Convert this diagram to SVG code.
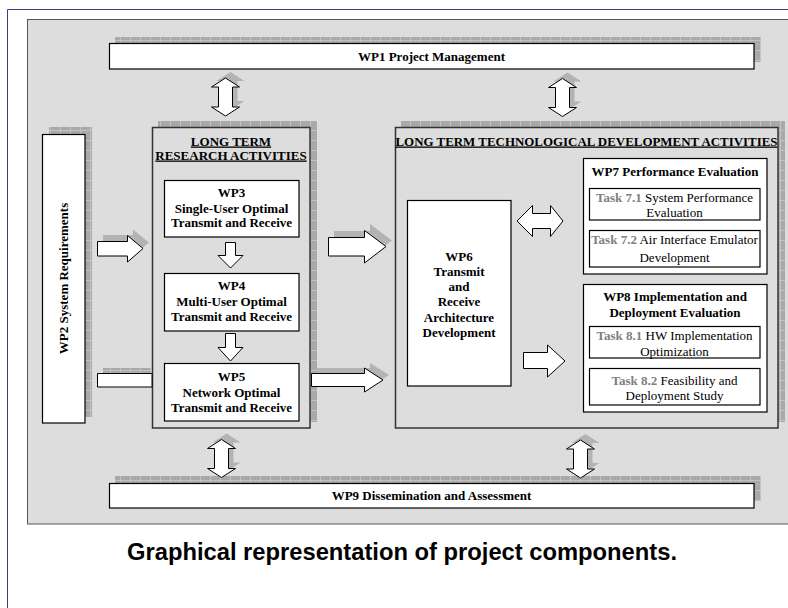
<svg xmlns="http://www.w3.org/2000/svg" width="788" height="608" viewBox="0 0 788 608">
<defs>
<style>
.t{font-family:"Liberation Serif","Times New Roman",serif;font-size:13px;font-weight:bold;text-anchor:middle;fill:#000}
.n{font-weight:normal}
.g{fill:#808080;font-weight:bold}
.box{fill:#fff;stroke:#000;stroke-width:1.2}
.grp{fill:#dddddd;stroke:#333;stroke-width:1.5}
.sh{fill:url(#hatch)}
.ash{fill:#a9a9a9;opacity:.8}
.ar{fill:#fff;stroke:#000;stroke-width:1}
.cap{font-family:"Liberation Sans",Arial,sans-serif;font-weight:bold;font-size:23px;text-anchor:middle;fill:#000}
</style>
<pattern id="hatch" width="10" height="10" patternUnits="userSpaceOnUse"><rect width="10" height="10" fill="#a9a9a9"/><path d="M0.5 0V10M0 0.5H10" stroke="#c2c2c2" stroke-width="1"/></pattern>
<path id="dv" d="M0,-19 L14,-10 L7,-10 L7,10 L14,10 L0,19 L-14,10 L-7,10 L-7,-10 L-14,-10 Z"/>
</defs>

<g id="frame">
<path d="M7.5,608 V9.5 H788" fill="none" stroke="#3c3c85"/>
<rect x="27.5" y="19.5" width="780" height="504.5" fill="#dddddd" stroke="#555"/>
</g>

<g id="wp1">
<rect class="sh" x="115" y="37" width="646" height="25"/>
<rect class="box" x="109.5" y="43.5" width="644.5" height="25.5"/>
<text class="t" x="431.5" y="61">WP1 Project Management</text>
</g>

<g id="wp2">
<rect class="sh" x="49" y="127" width="43" height="290"/>
<rect class="box" x="42.5" y="134.5" width="42.5" height="288.5"/>
<text class="t" transform="translate(68,278.5) rotate(-90)" x="0" y="0">WP2 System Requirements</text>
</g>

<g id="ltr">
<rect class="sh" x="158" y="121" width="159" height="301"/>
<rect class="grp" x="152.5" y="127.5" width="157.5" height="300.5"/>
<text class="t" x="231" y="145.5" text-decoration="underline">LONG TERM</text>
<text class="t" x="231" y="159.5" text-decoration="underline">RESEARCH ACTIVITIES</text>
</g>

<g id="wp3">
<rect class="box" x="164.5" y="180.5" width="134.5" height="56.5"/>
<text class="t" x="231.5" y="196.5">WP3</text>
<text class="t" x="231.5" y="212.5">Single-User Optimal</text>
<text class="t" x="231.5" y="227">Transmit and Receive</text>
</g>

<g id="wp4">
<rect class="box" x="164.5" y="273.5" width="134.5" height="57.5"/>
<text class="t" x="231.5" y="290">WP4</text>
<text class="t" x="231.5" y="305.5">Multi-User Optimal</text>
<text class="t" x="231.5" y="320.5">Transmit and Receive</text>
</g>

<g id="wp5">
<rect class="box" x="164.5" y="363.5" width="134.5" height="57.5"/>
<text class="t" x="231.5" y="380.5">WP5</text>
<text class="t" x="231.5" y="396.5">Network Optimal</text>
<text class="t" x="231.5" y="411.5">Transmit and Receive</text>
</g>

<g id="ltd">
<rect class="sh" x="401" y="121" width="384" height="301"/>
<rect class="grp" x="395.5" y="127.5" width="382.5" height="300.5"/>
<text class="t" x="586.5" y="145.5" text-decoration="underline" textLength="382" lengthAdjust="spacingAndGlyphs">LONG TERM TECHNOLOGICAL DEVELOPMENT ACTIVITIES</text>
</g>

<g id="wp6">
<rect class="box" x="407.5" y="200.5" width="103.5" height="185.5"/>
<text class="t" x="459" y="260.5">WP6</text>
<text class="t" x="459" y="275.5">Transmit</text>
<text class="t" x="459" y="290.5">and</text>
<text class="t" x="459" y="306">Receive</text>
<text class="t" x="459" y="321.5">Architecture</text>
<text class="t" x="459" y="336.5">Development</text>
</g>

<g id="wp7">
<rect class="box" x="583.5" y="158.5" width="183.5" height="115.5"/>
<text class="t" x="675" y="175.5">WP7 Performance Evaluation</text>
<rect class="box" x="589.5" y="188.5" width="170.5" height="31.5"/>
<text class="t n" x="674.5" y="201.5"><tspan class="g">Task 7.1</tspan> System Performance</text>
<text class="t n" x="674.5" y="216.5">Evaluation</text>
<rect class="box" x="589.5" y="230.5" width="170.5" height="36.5"/>
<text class="t n" x="674.5" y="243.5"><tspan class="g">Task 7.2</tspan> Air Interface Emulator</text>
<text class="t n" x="674.5" y="261.5">Development</text>
</g>

<g id="wp8">
<rect class="box" x="583.5" y="284.5" width="183.5" height="127.5"/>
<text class="t" x="675" y="301">WP8 Implementation and</text>
<text class="t" x="675" y="317">Deployment Evaluation</text>
<rect class="box" x="589.5" y="326.5" width="170.5" height="31.5"/>
<text class="t n" x="674.5" y="339.5"><tspan class="g">Task 8.1</tspan> HW Implementation</text>
<text class="t n" x="674.5" y="355.5">Optimization</text>
<rect class="box" x="589.5" y="368.5" width="170.5" height="36.5"/>
<text class="t n" x="674.5" y="384.5"><tspan class="g">Task 8.2</tspan> Feasibility and</text>
<text class="t n" x="674.5" y="399.5">Deployment Study</text>
</g>

<g id="wp9">
<rect class="sh" x="115" y="476" width="646" height="25"/>
<rect class="box" x="109.5" y="483.5" width="644.5" height="24.5"/>
<text class="t" x="431.5" y="500">WP9 Dissemination and Assessment</text>
</g>

<g id="connectors">
<use href="#dv" class="ash" transform="translate(230.5,91)"/>
<use href="#dv" class="ar" transform="translate(225.5,97)"/>
<use href="#dv" class="ash" transform="translate(567.5,91.5)"/>
<use href="#dv" class="ar" transform="translate(562.5,97.5)"/>
<use href="#dv" class="ash" transform="translate(226.5,452.5)"/>
<use href="#dv" class="ar" transform="translate(221.5,458.5)"/>
<use href="#dv" class="ash" transform="translate(585.5,453)"/>
<use href="#dv" class="ar" transform="translate(580.5,459)"/>

<polygon class="ash" transform="translate(6,-6)" points="97,241 127,241 127,235.5 143,248.5 127,262 127,256 97,256"/>
<polygon class="ar" points="97.5,241.5 127.5,241.5 127.5,235.5 143,248.5 127.5,262 127.5,256 97.5,256"/>

<rect class="sh" x="103" y="368" width="49" height="5"/>
<polygon class="ar" points="152,373.5 97.5,373.5 97.5,387 152,387"/>

<polygon class="ash" transform="translate(6,-6)" points="328,237 364,237 364,230 386,246.5 364,263 364,256 328,256"/>
<polygon class="ar" points="328.5,237.5 364.5,237.5 364.5,230.5 386,246.5 364.5,263 364.5,256 328.5,256"/>

<polygon class="ash" transform="translate(6,-5)" points="311,373 364,373 364,368 383,380 364,392 364,387 311,387"/>
<polygon class="ar" points="311.5,373.5 364.5,373.5 364.5,368 383,380 364.5,392 364.5,386.5 311.5,386.5"/>

<polygon class="ar" points="225.5,242.5 235.5,242.5 235.5,255.5 243,255.5 230.5,268 218,255.5 225.5,255.5"/>
<polygon class="ar" points="225.5,333.5 235.5,333.5 235.5,347.5 243,347.5 230.5,361 218,347.5 225.5,347.5"/>

<polygon class="ar" points="517,221 532.5,205.5 532.5,213.5 550.5,213.5 550.5,205.5 563,221 550.5,236.5 550.5,228.5 532.5,228.5 532.5,236.5"/>
<polygon class="ar" points="523.5,352.5 547.5,352.5 547.5,345 565,361 547.5,377 547.5,368.5 523.5,368.5"/>
</g>

<g id="caption">
<text class="cap" x="402" y="560" textLength="550" lengthAdjust="spacingAndGlyphs">Graphical representation of project components.</text>
</g>
</svg>
